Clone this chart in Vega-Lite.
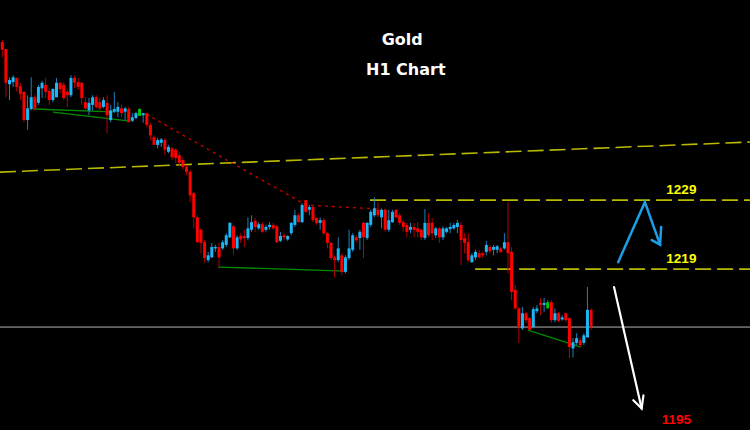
{
  "$schema": "https://vega.github.io/schema/vega-lite/v6.json",
  "width": 750,
  "height": 430,
  "autosize": {"type": "none"},
  "padding": 0,
  "background": "#000000",
  "config": {"view": {"stroke": null}, "scale": {"continuousPadding": 0}},
  "datasets": {
    "candles": [
      {"i":0,"t":"d","o":1251.9,"h":1252.2,"l":1249.7,"c":1250.8},
      {"i":1,"t":"d","o":1250.9,"h":1250.9,"l":1243.9,"c":1246.0},
      {"i":2,"t":"u","o":1245.8,"h":1246.8,"l":1243.5,"c":1246.4},
      {"i":3,"t":"u","o":1246.1,"h":1247.1,"l":1245.4,"c":1246.8},
      {"i":4,"t":"d","o":1246.7,"h":1246.8,"l":1244.7,"c":1245.4},
      {"i":5,"t":"d","o":1245.5,"h":1246.0,"l":1243.5,"c":1244.4},
      {"i":6,"t":"d","o":1244.7,"h":1244.7,"l":1240.3,"c":1240.6},
      {"i":7,"t":"u","o":1240.6,"h":1244.2,"l":1239.2,"c":1242.3},
      {"i":8,"t":"u","o":1242.2,"h":1246.8,"l":1242.0,"c":1243.9},
      {"i":9,"t":"d","o":1243.9,"h":1244.2,"l":1242.0,"c":1242.3},
      {"i":10,"t":"u","o":1243.1,"h":1245.7,"l":1242.8,"c":1245.4},
      {"i":11,"t":"u","o":1245.2,"h":1246.3,"l":1243.8,"c":1246.0},
      {"i":12,"t":"d","o":1245.7,"h":1246.7,"l":1243.8,"c":1244.7},
      {"i":13,"t":"d","o":1244.8,"h":1245.2,"l":1242.8,"c":1243.5},
      {"i":14,"t":"u","o":1243.5,"h":1245.2,"l":1243.2,"c":1245.1},
      {"i":15,"t":"u","o":1243.9,"h":1246.7,"l":1243.9,"c":1246.0},
      {"i":16,"t":"d","o":1246.0,"h":1246.1,"l":1244.5,"c":1245.1},
      {"i":17,"t":"d","o":1245.7,"h":1246.1,"l":1243.5,"c":1243.8},
      {"i":18,"t":"d","o":1244.7,"h":1245.0,"l":1242.5,"c":1244.2},
      {"i":19,"t":"u","o":1244.2,"h":1247.1,"l":1243.9,"c":1246.7},
      {"i":20,"t":"d","o":1246.7,"h":1247.0,"l":1245.2,"c":1246.0},
      {"i":21,"t":"d","o":1246.1,"h":1246.7,"l":1245.0,"c":1245.4},
      {"i":22,"t":"d","o":1246.0,"h":1246.1,"l":1242.8,"c":1243.8},
      {"i":23,"t":"d","o":1243.2,"h":1243.9,"l":1242.0,"c":1242.3},
      {"i":24,"t":"u","o":1242.0,"h":1243.8,"l":1241.3,"c":1243.1},
      {"i":25,"t":"u","o":1242.8,"h":1244.2,"l":1242.0,"c":1243.9},
      {"i":26,"t":"d","o":1243.9,"h":1244.2,"l":1242.3,"c":1242.5},
      {"i":27,"t":"d","o":1243.2,"h":1243.9,"l":1241.8,"c":1242.3},
      {"i":28,"t":"u","o":1242.5,"h":1243.9,"l":1242.3,"c":1243.5},
      {"i":29,"t":"d","o":1243.1,"h":1244.2,"l":1238.7,"c":1241.3},
      {"i":30,"t":"u","o":1240.6,"h":1242.8,"l":1240.3,"c":1242.0},
      {"i":31,"t":"u","o":1241.8,"h":1244.7,"l":1241.6,"c":1242.2},
      {"i":32,"t":"u","o":1241.8,"h":1243.2,"l":1241.0,"c":1242.5},
      {"i":33,"t":"d","o":1242.3,"h":1242.8,"l":1241.0,"c":1241.6},
      {"i":34,"t":"u","o":1241.8,"h":1242.5,"l":1240.6,"c":1242.3},
      {"i":35,"t":"d","o":1242.2,"h":1242.5,"l":1240.3,"c":1240.3},
      {"i":36,"t":"u","o":1240.5,"h":1241.6,"l":1240.3,"c":1241.0},
      {"i":37,"t":"u","o":1240.9,"h":1241.8,"l":1240.7,"c":1241.6},
      {"i":38,"t":"g","o":1241.2,"h":1242.3,"l":1241.2,"c":1242.2},
      {"i":39,"t":"u","o":1241.3,"h":1241.6,"l":1240.2,"c":1241.6},
      {"i":40,"t":"d","o":1241.6,"h":1241.6,"l":1239.6,"c":1239.9},
      {"i":41,"t":"d","o":1239.9,"h":1240.2,"l":1237.7,"c":1238.4},
      {"i":42,"t":"d","o":1238.1,"h":1238.4,"l":1237.0,"c":1237.0},
      {"i":43,"t":"u","o":1237.0,"h":1238.0,"l":1236.5,"c":1237.7},
      {"i":44,"t":"u","o":1237.3,"h":1238.0,"l":1236.7,"c":1237.8},
      {"i":45,"t":"d","o":1237.7,"h":1238.0,"l":1235.5,"c":1236.3},
      {"i":46,"t":"u","o":1236.0,"h":1237.0,"l":1235.8,"c":1236.7},
      {"i":47,"t":"d","o":1236.5,"h":1236.7,"l":1234.8,"c":1235.2},
      {"i":48,"t":"d","o":1236.3,"h":1236.5,"l":1234.4,"c":1235.1},
      {"i":49,"t":"d","o":1235.5,"h":1236.0,"l":1234.1,"c":1234.4},
      {"i":50,"t":"d","o":1234.8,"h":1235.1,"l":1233.4,"c":1233.8},
      {"i":51,"t":"d","o":1233.8,"h":1234.1,"l":1232.6,"c":1233.1},
      {"i":52,"t":"d","o":1233.1,"h":1233.4,"l":1228.7,"c":1229.7},
      {"i":53,"t":"d","o":1230.0,"h":1230.2,"l":1224.9,"c":1226.5},
      {"i":54,"t":"d","o":1226.5,"h":1226.8,"l":1222.8,"c":1222.9},
      {"i":55,"t":"d","o":1224.7,"h":1224.9,"l":1221.3,"c":1222.8},
      {"i":56,"t":"d","o":1222.9,"h":1223.2,"l":1219.9,"c":1220.6},
      {"i":57,"t":"u","o":1220.3,"h":1221.5,"l":1220.0,"c":1221.0},
      {"i":58,"t":"u","o":1220.7,"h":1222.8,"l":1220.6,"c":1222.2},
      {"i":59,"t":"u","o":1222.0,"h":1222.5,"l":1221.5,"c":1222.2},
      {"i":60,"t":"d","o":1222.2,"h":1222.8,"l":1219.1,"c":1220.7},
      {"i":61,"t":"u","o":1222.0,"h":1223.2,"l":1221.8,"c":1222.9},
      {"i":62,"t":"u","o":1222.5,"h":1224.2,"l":1222.2,"c":1223.9},
      {"i":63,"t":"u","o":1223.6,"h":1225.8,"l":1223.5,"c":1225.7},
      {"i":64,"t":"d","o":1225.2,"h":1225.4,"l":1221.0,"c":1222.0},
      {"i":65,"t":"u","o":1222.0,"h":1223.9,"l":1221.8,"c":1223.6},
      {"i":66,"t":"d","o":1223.8,"h":1224.2,"l":1222.8,"c":1223.3},
      {"i":67,"t":"d","o":1223.8,"h":1224.7,"l":1222.2,"c":1223.5},
      {"i":68,"t":"u","o":1223.5,"h":1226.5,"l":1223.2,"c":1224.9},
      {"i":69,"t":"u","o":1224.7,"h":1226.8,"l":1224.4,"c":1225.8},
      {"i":70,"t":"d","o":1226.0,"h":1226.4,"l":1224.4,"c":1225.1},
      {"i":71,"t":"u","o":1224.9,"h":1225.8,"l":1224.7,"c":1225.5},
      {"i":72,"t":"d","o":1225.5,"h":1225.8,"l":1224.2,"c":1224.4},
      {"i":73,"t":"u","o":1224.7,"h":1225.4,"l":1224.4,"c":1225.1},
      {"i":74,"t":"u","o":1225.1,"h":1225.8,"l":1224.7,"c":1225.4},
      {"i":75,"t":"d","o":1225.4,"h":1225.7,"l":1224.7,"c":1224.9},
      {"i":76,"t":"d","o":1225.2,"h":1225.4,"l":1222.8,"c":1222.9},
      {"i":77,"t":"u","o":1223.1,"h":1224.4,"l":1222.9,"c":1223.8},
      {"i":78,"t":"d","o":1223.9,"h":1224.2,"l":1223.2,"c":1223.6},
      {"i":79,"t":"u","o":1223.3,"h":1223.9,"l":1223.1,"c":1223.8},
      {"i":80,"t":"u","o":1224.2,"h":1225.8,"l":1223.9,"c":1225.7},
      {"i":81,"t":"u","o":1225.4,"h":1227.6,"l":1225.1,"c":1226.8},
      {"i":82,"t":"d","o":1226.8,"h":1227.1,"l":1225.7,"c":1225.8},
      {"i":83,"t":"u","o":1225.8,"h":1228.6,"l":1225.7,"c":1228.3},
      {"i":84,"t":"d","o":1229.0,"h":1229.0,"l":1227.1,"c":1227.3},
      {"i":85,"t":"u","o":1227.6,"h":1228.3,"l":1226.8,"c":1228.0},
      {"i":86,"t":"d","o":1228.0,"h":1228.3,"l":1225.8,"c":1226.1},
      {"i":87,"t":"d","o":1226.4,"h":1226.5,"l":1225.4,"c":1225.7},
      {"i":88,"t":"u","o":1225.7,"h":1226.5,"l":1224.7,"c":1226.1},
      {"i":89,"t":"d","o":1226.1,"h":1226.4,"l":1223.9,"c":1224.2},
      {"i":90,"t":"d","o":1224.2,"h":1224.4,"l":1222.0,"c":1222.8},
      {"i":91,"t":"d","o":1222.8,"h":1222.9,"l":1220.3,"c":1220.6},
      {"i":92,"t":"d","o":1220.7,"h":1221.0,"l":1217.8,"c":1220.3},
      {"i":93,"t":"u","o":1220.3,"h":1223.6,"l":1220.0,"c":1222.0},
      {"i":94,"t":"d","o":1221.0,"h":1221.3,"l":1218.1,"c":1218.6},
      {"i":95,"t":"u","o":1218.6,"h":1221.0,"l":1218.4,"c":1220.7},
      {"i":96,"t":"u","o":1220.6,"h":1224.7,"l":1220.3,"c":1222.0},
      {"i":97,"t":"u","o":1221.8,"h":1224.2,"l":1221.5,"c":1223.9},
      {"i":98,"t":"d","o":1223.6,"h":1223.9,"l":1222.9,"c":1223.2},
      {"i":99,"t":"u","o":1223.5,"h":1224.7,"l":1221.8,"c":1224.4},
      {"i":100,"t":"d","o":1225.7,"h":1225.8,"l":1220.6,"c":1223.6},
      {"i":101,"t":"u","o":1223.5,"h":1225.8,"l":1223.2,"c":1225.7},
      {"i":102,"t":"u","o":1225.4,"h":1227.6,"l":1225.1,"c":1227.3},
      {"i":103,"t":"u","o":1226.8,"h":1229.4,"l":1226.5,"c":1227.8},
      {"i":104,"t":"d","o":1227.6,"h":1228.7,"l":1226.5,"c":1226.8},
      {"i":105,"t":"u","o":1226.5,"h":1227.8,"l":1224.9,"c":1227.6},
      {"i":106,"t":"d","o":1227.6,"h":1227.8,"l":1224.4,"c":1224.7},
      {"i":107,"t":"u","o":1224.7,"h":1227.6,"l":1224.4,"c":1226.1},
      {"i":108,"t":"u","o":1225.8,"h":1227.6,"l":1225.7,"c":1227.3},
      {"i":109,"t":"d","o":1227.6,"h":1227.6,"l":1226.4,"c":1226.5},
      {"i":110,"t":"d","o":1226.8,"h":1227.1,"l":1225.4,"c":1225.7},
      {"i":111,"t":"d","o":1225.8,"h":1226.1,"l":1224.4,"c":1225.1},
      {"i":112,"t":"d","o":1225.4,"h":1225.7,"l":1223.6,"c":1224.4},
      {"i":113,"t":"u","o":1224.7,"h":1225.7,"l":1224.2,"c":1225.1},
      {"i":114,"t":"d","o":1225.1,"h":1225.7,"l":1223.6,"c":1224.7},
      {"i":115,"t":"d","o":1224.9,"h":1225.8,"l":1223.6,"c":1224.4},
      {"i":116,"t":"d","o":1224.7,"h":1224.9,"l":1223.2,"c":1223.6},
      {"i":117,"t":"u","o":1223.5,"h":1227.7,"l":1223.2,"c":1225.7},
      {"i":118,"t":"d","o":1225.7,"h":1227.1,"l":1223.6,"c":1223.9},
      {"i":119,"t":"d","o":1225.7,"h":1226.4,"l":1223.2,"c":1224.2},
      {"i":120,"t":"u","o":1223.9,"h":1225.1,"l":1223.5,"c":1224.9},
      {"i":121,"t":"d","o":1224.9,"h":1225.1,"l":1222.8,"c":1223.6},
      {"i":122,"t":"u","o":1223.6,"h":1225.2,"l":1223.2,"c":1224.9},
      {"i":123,"t":"u","o":1224.4,"h":1225.1,"l":1224.2,"c":1224.9},
      {"i":124,"t":"u","o":1224.8,"h":1225.7,"l":1224.2,"c":1225.1},
      {"i":125,"t":"u","o":1224.9,"h":1225.7,"l":1224.7,"c":1225.4},
      {"i":126,"t":"u","o":1225.1,"h":1226.1,"l":1224.2,"c":1225.7},
      {"i":127,"t":"d","o":1225.4,"h":1225.8,"l":1219.6,"c":1223.2},
      {"i":128,"t":"d","o":1223.5,"h":1224.2,"l":1221.3,"c":1222.8},
      {"i":129,"t":"d","o":1222.9,"h":1224.2,"l":1220.0,"c":1220.3},
      {"i":130,"t":"u","o":1220.0,"h":1221.3,"l":1219.9,"c":1221.0},
      {"i":131,"t":"u","o":1220.7,"h":1221.8,"l":1220.3,"c":1221.5},
      {"i":132,"t":"d","o":1221.3,"h":1221.8,"l":1220.6,"c":1220.7},
      {"i":133,"t":"d","o":1221.3,"h":1221.5,"l":1220.6,"c":1221.0},
      {"i":134,"t":"u","o":1221.5,"h":1223.1,"l":1221.0,"c":1222.5},
      {"i":135,"t":"d","o":1222.2,"h":1222.5,"l":1221.3,"c":1221.6},
      {"i":136,"t":"u","o":1221.8,"h":1222.5,"l":1221.0,"c":1222.2},
      {"i":137,"t":"u","o":1221.8,"h":1222.5,"l":1221.3,"c":1222.3},
      {"i":138,"t":"d","o":1222.0,"h":1222.2,"l":1221.3,"c":1221.5},
      {"i":139,"t":"u","o":1222.0,"h":1224.2,"l":1221.8,"c":1222.9},
      {"i":140,"t":"d","o":1222.9,"h":1228.7,"l":1218.4,"c":1221.3},
      {"i":141,"t":"d","o":1221.5,"h":1222.2,"l":1214.5,"c":1215.7},
      {"i":142,"t":"d","o":1216.0,"h":1216.7,"l":1213.1,"c":1213.3},
      {"i":143,"t":"d","o":1213.3,"h":1213.5,"l":1208.3,"c":1210.6},
      {"i":144,"t":"u","o":1210.4,"h":1213.5,"l":1210.2,"c":1212.6},
      {"i":145,"t":"d","o":1212.6,"h":1212.8,"l":1211.2,"c":1211.6},
      {"i":146,"t":"d","o":1211.9,"h":1212.0,"l":1209.9,"c":1210.2},
      {"i":147,"t":"u","o":1210.6,"h":1213.5,"l":1210.4,"c":1213.2},
      {"i":148,"t":"u","o":1212.9,"h":1213.8,"l":1212.6,"c":1213.3},
      {"i":149,"t":"d","o":1214.1,"h":1214.8,"l":1212.3,"c":1213.8},
      {"i":150,"t":"u","o":1213.8,"h":1214.8,"l":1212.8,"c":1214.1},
      {"i":151,"t":"g","o":1213.3,"h":1214.5,"l":1213.3,"c":1214.2},
      {"i":152,"t":"d","o":1214.2,"h":1214.5,"l":1211.2,"c":1211.6},
      {"i":153,"t":"u","o":1211.6,"h":1213.3,"l":1211.3,"c":1212.6},
      {"i":154,"t":"d","o":1212.6,"h":1212.8,"l":1211.3,"c":1211.5},
      {"i":155,"t":"u","o":1211.7,"h":1212.3,"l":1211.5,"c":1212.0},
      {"i":156,"t":"d","o":1212.6,"h":1212.6,"l":1211.3,"c":1211.6},
      {"i":157,"t":"d","o":1211.9,"h":1212.0,"l":1206.1,"c":1207.7},
      {"i":158,"t":"u","o":1207.5,"h":1209.0,"l":1206.2,"c":1208.4},
      {"i":159,"t":"u","o":1208.3,"h":1209.7,"l":1208.0,"c":1209.0},
      {"i":160,"t":"d","o":1208.7,"h":1209.1,"l":1207.7,"c":1208.0},
      {"i":161,"t":"u","o":1208.3,"h":1209.7,"l":1208.0,"c":1209.4},
      {"i":162,"t":"u","o":1209.1,"h":1216.4,"l":1209.1,"c":1213.1},
      {"i":163,"t":"d","o":1213.1,"h":1213.3,"l":1210.2,"c":1210.6}
    ],
    "lines": [
      {"g":"slant","k":0,"i":-0.64,"p":1233.06},
      {"g":"slant","k":1,"i":207.0,"p":1237.41},
      {"g":"r1229","k":0,"i":101.8,"p":1229.0},
      {"g":"r1229","k":1,"i":207.0,"p":1229.0},
      {"g":"r1219","k":0,"i":130.9,"p":1219.0},
      {"g":"r1219","k":1,"i":207.0,"p":1219.0},
      {"g":"gray","k":0,"i":-0.64,"p":1210.6},
      {"g":"gray","k":1,"i":207.0,"p":1210.6},
      {"g":"reddash","k":0,"i":39.8,"p":1241.47},
      {"g":"reddash","k":1,"i":84.1,"p":1228.28},
      {"g":"reddash","k":2,"i":104.6,"p":1227.7},
      {"g":"green1","k":0,"i":8.5,"p":1242.2},
      {"g":"green1","k":1,"i":30.6,"p":1241.8},
      {"g":"green2","k":0,"i":14.0,"p":1241.76},
      {"g":"green2","k":1,"i":35.4,"p":1240.46},
      {"g":"green3","k":0,"i":59.7,"p":1219.3},
      {"g":"green3","k":1,"i":94.9,"p":1218.7},
      {"g":"green4","k":0,"i":145.5,"p":1210.15},
      {"g":"green4","k":1,"i":160.2,"p":1207.7},
      {"g":"blue","k":0,"i":170.5,"p":1220.0},
      {"g":"blue","k":1,"i":177.9,"p":1228.7},
      {"g":"blue","k":2,"i":182.1,"p":1222.55},
      {"g":"bluehead","k":0,"i":179.8,"p":1223.2},
      {"g":"bluehead","k":1,"i":182.1,"p":1222.55},
      {"g":"bluehead","k":2,"i":182.4,"p":1225.1},
      {"g":"white","k":0,"i":169.35,"p":1216.4},
      {"g":"white","k":1,"i":177.0,"p":1198.8},
      {"g":"whitehead","k":0,"i":174.7,"p":1200.0},
      {"g":"whitehead","k":1,"i":177.0,"p":1198.8},
      {"g":"whitehead","k":2,"i":177.5,"p":1200.7}
    ],
    "levels": [
      {"lbl":"1229","i":188.0,"p":1230.45},
      {"lbl":"1219","i":188.0,"p":1220.4},
      {"lbl":"1195","i":186.6,"p":1197.2}
    ],
    "titles": [
      {"txt":"Gold","i":110.7,"p":1252.2},
      {"txt":"H1 Chart","i":111.7,"p":1247.85}
    ]
  },
  "layer": [
    {
      "data": {"name": "lines"},
      "transform": [{"filter": "datum.g === 'gray'"}],
      "mark": {"type": "line", "stroke": "#B4B4B4", "strokeWidth": 1},
      "encoding": {
        "x": {"field": "i", "type": "quantitative", "scale": {"domain": [-0.64, 207.0], "nice": false, "zero": false, "padding": 0}, "axis": null},
        "y": {"field": "p", "type": "quantitative", "scale": {"domain": [1195.68, 1258], "nice": false, "zero": false, "padding": 0}, "axis": null},
        "order": {"field": "k"}
      }
    },
    {
      "data": {"name": "lines"},
      "transform": [{"filter": "datum.g === 'slant' || datum.g === 'r1229' || datum.g === 'r1219'"}],
      "mark": {"type": "line", "stroke": "#B9B900", "strokeWidth": 1.6, "strokeDash": [16, 6]},
      "encoding": {
        "x": {"field": "i", "type": "quantitative", "scale": {"domain": [-0.64, 207.0], "nice": false, "zero": false, "padding": 0}, "axis": null},
        "y": {"field": "p", "type": "quantitative", "scale": {"domain": [1195.68, 1258], "nice": false, "zero": false, "padding": 0}, "axis": null},
        "detail": {"field": "g"},
        "order": {"field": "k"}
      }
    },
    {
      "data": {"name": "lines"},
      "transform": [{"filter": "datum.g === 'reddash'"}],
      "mark": {"type": "line", "stroke": "#C00000", "strokeWidth": 1.4, "strokeDash": [3, 4]},
      "encoding": {
        "x": {"field": "i", "type": "quantitative", "scale": {"domain": [-0.64, 207.0], "nice": false, "zero": false, "padding": 0}, "axis": null},
        "y": {"field": "p", "type": "quantitative", "scale": {"domain": [1195.68, 1258], "nice": false, "zero": false, "padding": 0}, "axis": null},
        "order": {"field": "k"}
      }
    },
    {
      "data": {"name": "lines"},
      "transform": [{"filter": "indexof(datum.g, 'green') === 0"}],
      "mark": {"type": "line", "stroke": "#008C00", "strokeWidth": 1.3},
      "encoding": {
        "x": {"field": "i", "type": "quantitative", "scale": {"domain": [-0.64, 207.0], "nice": false, "zero": false, "padding": 0}, "axis": null},
        "y": {"field": "p", "type": "quantitative", "scale": {"domain": [1195.68, 1258], "nice": false, "zero": false, "padding": 0}, "axis": null},
        "detail": {"field": "g"},
        "order": {"field": "k"}
      }
    },
    {
      "data": {"name": "candles"},
      "mark": {"type": "rule", "strokeWidth": 1},
      "encoding": {
        "x": {"field": "i", "type": "quantitative", "scale": {"domain": [-0.64, 207.0], "nice": false, "zero": false, "padding": 0}, "axis": null},
        "y": {"field": "h", "type": "quantitative", "scale": {"domain": [1195.68, 1258], "nice": false, "zero": false, "padding": 0}, "axis": null},
        "y2": {"field": "l"},
        "stroke": {"field": "t", "type": "nominal", "scale": {"domain": ["u", "d", "g"], "range": ["#1C80BC", "#B40000", "#008C00"]}, "legend": null}
      }
    },
    {
      "data": {"name": "candles"},
      "mark": {"type": "bar", "width": 3},
      "encoding": {
        "x": {"field": "i", "type": "quantitative", "scale": {"domain": [-0.64, 207.0], "nice": false, "zero": false, "padding": 0}, "axis": null},
        "y": {"field": "o", "type": "quantitative", "scale": {"domain": [1195.68, 1258], "nice": false, "zero": false, "padding": 0}, "axis": null},
        "y2": {"field": "c"},
        "fill": {"field": "t", "type": "nominal", "scale": {"domain": ["u", "d", "g"], "range": ["#1EB7F5", "#FF0000", "#00C800"]}, "legend": null}
      }
    },
    {
      "data": {"name": "lines"},
      "transform": [{"filter": "datum.g === 'blue' || datum.g === 'bluehead'"}],
      "mark": {"type": "line", "stroke": "#1E9EE6", "strokeWidth": 2.5, "strokeCap": "round", "strokeJoin": "miter"},
      "encoding": {
        "x": {"field": "i", "type": "quantitative", "scale": {"domain": [-0.64, 207.0], "nice": false, "zero": false, "padding": 0}, "axis": null},
        "y": {"field": "p", "type": "quantitative", "scale": {"domain": [1195.68, 1258], "nice": false, "zero": false, "padding": 0}, "axis": null},
        "detail": {"field": "g"},
        "order": {"field": "k"}
      }
    },
    {
      "data": {"name": "lines"},
      "transform": [{"filter": "datum.g === 'white' || datum.g === 'whitehead'"}],
      "mark": {"type": "line", "stroke": "#FFFFFF", "strokeWidth": 2.2, "strokeCap": "round"},
      "encoding": {
        "x": {"field": "i", "type": "quantitative", "scale": {"domain": [-0.64, 207.0], "nice": false, "zero": false, "padding": 0}, "axis": null},
        "y": {"field": "p", "type": "quantitative", "scale": {"domain": [1195.68, 1258], "nice": false, "zero": false, "padding": 0}, "axis": null},
        "detail": {"field": "g"},
        "order": {"field": "k"}
      }
    },
    {
      "data": {"name": "levels"},
      "transform": [{"filter": "datum.lbl !== '1195'"}],
      "mark": {"type": "text", "font": "Liberation Sans", "fontWeight": "bold", "fontSize": 13.5, "fill": "#FFFF00", "align": "center", "baseline": "middle"},
      "encoding": {
        "x": {"field": "i", "type": "quantitative", "scale": {"domain": [-0.64, 207.0], "nice": false, "zero": false, "padding": 0}, "axis": null},
        "y": {"field": "p", "type": "quantitative", "scale": {"domain": [1195.68, 1258], "nice": false, "zero": false, "padding": 0}, "axis": null},
        "text": {"field": "lbl"}
      }
    },
    {
      "data": {"name": "levels"},
      "transform": [{"filter": "datum.lbl === '1195'"}],
      "mark": {"type": "text", "font": "Liberation Sans", "fontWeight": "bold", "fontSize": 13.5, "fill": "#FF0000", "align": "center", "baseline": "middle"},
      "encoding": {
        "x": {"field": "i", "type": "quantitative", "scale": {"domain": [-0.64, 207.0], "nice": false, "zero": false, "padding": 0}, "axis": null},
        "y": {"field": "p", "type": "quantitative", "scale": {"domain": [1195.68, 1258], "nice": false, "zero": false, "padding": 0}, "axis": null},
        "text": {"field": "lbl"}
      }
    },
    {
      "data": {"name": "titles"},
      "mark": {"type": "text", "font": "DejaVu Sans", "fontWeight": "bold", "fontSize": 16, "fill": "#FFFFFF", "align": "center", "baseline": "middle"},
      "encoding": {
        "x": {"field": "i", "type": "quantitative", "scale": {"domain": [-0.64, 207.0], "nice": false, "zero": false, "padding": 0}, "axis": null},
        "y": {"field": "p", "type": "quantitative", "scale": {"domain": [1195.68, 1258], "nice": false, "zero": false, "padding": 0}, "axis": null},
        "text": {"field": "txt"}
      }
    }
  ]
}
